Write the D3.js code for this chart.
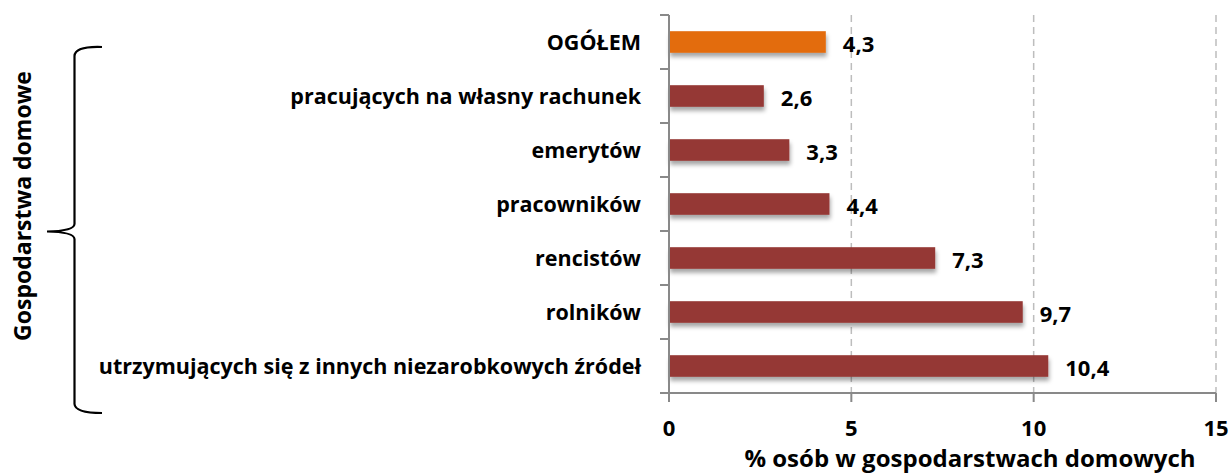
<!DOCTYPE html>
<html>
<head>
<meta charset="utf-8">
<script src="https://cdn.jsdelivr.net/npm/d3@7"></script>
<style>
  html, body { margin: 0; padding: 0; background: #fff; }
  svg { display: block; font-family: "Open Sans", Lato, sans-serif; }
</style>
</head>
<body>
<svg id="chart" width="1232" height="473"></svg>
<script>
// dane
var categories = ["OGÓŁEM", "pracujących na własny rachunek", "emerytów", "pracowników", "rencistów", "rolników", "utrzymujących się z innych niezarobkowych źródeł"];
var values = [4.3, 2.6, 3.3, 4.4, 7.3, 9.7, 10.4];
var xTicks = [0, 5, 10, 15];
var xTitle = "% osób w gospodarstwach domowych";
var yTitle = "Gospodarstwa domowe";

var svg = d3.select("#chart");
var x = d3.scaleLinear().domain([0, 15]).range([669, 1216]);
var y = d3.scaleBand().domain(categories).range([15, 393]).paddingInner(0.6).paddingOuter(0.3);

// cień słupków
var f = svg.append("defs").append("filter").attr("id", "sh").attr("x", "-5%").attr("y", "-30%").attr("width", "115%").attr("height", "190%");
f.append("feDropShadow").attr("dx", 1).attr("dy", 4).attr("stdDeviation", 2.2).attr("flood-color", "#000").attr("flood-opacity", 0.35);

// siatka
svg.append("g").selectAll("line").data(xTicks.filter(function (d) { return d > 0; })).join("line")
  .attr("x1", function (d) { return x(d); }).attr("x2", function (d) { return x(d); })
  .attr("y1", 15).attr("y2", 393)
  .attr("stroke", "#bdbdbd").attr("stroke-width", 1.5).attr("stroke-dasharray", "7,5");

// słupki
svg.append("g").selectAll("rect").data(values).join("rect")
  .attr("x", x(0)).attr("y", function (d, i) { return y(categories[i]); })
  .attr("width", function (d) { return x(d) - x(0); }).attr("height", y.bandwidth())
  .attr("fill", function (d, i) { return i === 0 ? "#e36c0a" : "#953735"; })
  .attr("filter", "url(#sh)");

// osie
var ax = svg.append("g").attr("stroke", "#898989").attr("stroke-width", 2).attr("fill", "none");
ax.append("line").attr("x1", x(0)).attr("x2", x(0)).attr("y1", 15).attr("y2", 401);
ax.append("line").attr("x1", 660).attr("x2", x(15)).attr("y1", 393).attr("y2", 393);
var step = y.step();
ax.selectAll(".yt").data(d3.range(categories.length + 1)).join("line").attr("class", "yt")
  .attr("x1", 660).attr("x2", x(0))
  .attr("y1", function (i) { return 15 + i * step; }).attr("y2", function (i) { return 15 + i * step; });
ax.selectAll(".xt").data(xTicks).join("line").attr("class", "xt")
  .attr("x1", function (d) { return x(d); }).attr("x2", function (d) { return x(d); })
  .attr("y1", 393).attr("y2", 402);

// etykiety kategorii
svg.append("g").selectAll("text").data(categories).join("text")
  .attr("x", 641).attr("y", function (d) { return y(d) + y.bandwidth() / 2; })
  .attr("dy", "0.35em").attr("text-anchor", "end")
  .attr("font-size", 21.5).attr("font-weight", "bold").attr("fill", "#000")
  .text(function (d) { return d; });

// wartości
svg.append("g").selectAll("text").data(values).join("text")
  .attr("x", function (d) { return x(d) + 17; })
  .attr("y", function (d, i) { return y(categories[i]) + y.bandwidth() / 2 + 2; })
  .attr("dy", "0.35em")
  .attr("font-size", 22).attr("font-weight", "bold").attr("fill", "#000")
  .text(function (d) { return d.toFixed(1).replace(".", ","); });

// etykiety osi X
svg.append("g").selectAll("text").data(xTicks).join("text")
  .attr("x", function (d) { return x(d); }).attr("y", 436)
  .attr("text-anchor", "middle").attr("font-size", 22).attr("font-weight", "bold")
  .text(function (d) { return d; });

svg.append("text").attr("x", 970).attr("y", 467)
  .attr("text-anchor", "middle").attr("font-size", 24).attr("font-weight", "bold")
  .text(xTitle);

svg.append("text").attr("transform", "translate(23,206) rotate(-90)").attr("dy", "0.35em")
  .attr("text-anchor", "middle").attr("font-size", 23).attr("font-weight", "bold")
  .text(yTitle);

// klamra
var p = d3.path();
p.moveTo(102, 47); p.quadraticCurveTo(75, 46, 74.5, 56);
p.lineTo(74.5, 224); p.quadraticCurveTo(74, 231, 47, 231.5);
p.quadraticCurveTo(74, 232, 74.5, 239);
p.lineTo(74.5, 404); p.quadraticCurveTo(75, 413, 102, 413);
svg.append("path").attr("d", p.toString()).attr("fill", "none").attr("stroke", "#000").attr("stroke-width", 2.2);
</script>
</body>
</html>
